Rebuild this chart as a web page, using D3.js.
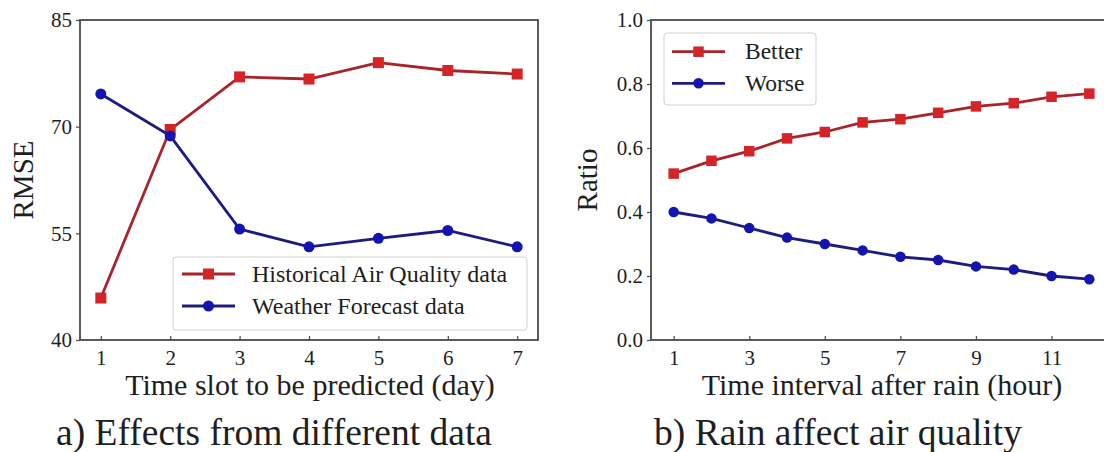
<!DOCTYPE html>
<html>
<head>
<meta charset="utf-8">
<script src="https://cdn.jsdelivr.net/npm/d3@7"></script>
<style>
  body { margin: 0; background: #fff; }
  svg text { font-family: "Liberation Serif", "DejaVu Serif", serif; fill: #1e1e1e; }
</style>
</head>
<body>
<div id="chart"></div>
<script>
// panel a) Effects from different data
const days = [1, 2, 3, 4, 5, 6, 7];
const historical = [45.9, 69.6, 77.0, 76.7, 79.0, 77.9, 77.4];
const weather = [74.6, 68.7, 55.6, 53.1, 54.3, 55.4, 53.1];
const rmseTicks = [40, 55, 70, 85];

// panel b) Rain affect air quality
const hours = [1, 2, 3, 4, 5, 6, 7, 8, 9, 10, 11, 12];
const better = [0.52, 0.56, 0.59, 0.63, 0.65, 0.68, 0.69, 0.71, 0.73, 0.74, 0.76, 0.77];
const worse = [0.40, 0.38, 0.35, 0.32, 0.30, 0.28, 0.26, 0.25, 0.23, 0.22, 0.20, 0.19];
const ratioTicks = [0.0, 0.2, 0.4, 0.6, 0.8, 1.0];
const hourTicks = [1, 3, 5, 7, 9, 11];

const RED_LINE = "#a8242a", RED_MARK = "#d42428";
const BLUE_LINE = "#1c1c7e", BLUE_MARK = "#1414b0";

var svg = d3.select("#chart").append("svg")
  .attr("width", 1104)
  .attr("height", 452);

function drawPanel(opt) {
  var g = svg.append("g");
  var x = d3.scaleLinear().domain(opt.xDomain).range([opt.left, opt.right]);
  var y = d3.scaleLinear().domain(opt.yDomain).range([opt.bottom, opt.top]);

  // y axis, ticks outside
  var yAxis = g.append("g")
    .attr("transform", "translate(" + opt.left + ",0)")
    .call(d3.axisLeft(y).tickValues(opt.yTicks).tickFormat(opt.yFormat).tickSize(4).tickPadding(4));

  // x axis, ticks inside
  var xAxis = g.append("g")
    .attr("transform", "translate(0," + opt.bottom + ")")
    .call(d3.axisBottom(x).tickValues(opt.xTicks).tickFormat(d3.format("d")).tickSize(-4).tickPadding(10));

  [yAxis, xAxis].forEach(function(ax) {
    ax.select(".domain").remove();
    ax.selectAll("line").attr("stroke", "#555").attr("stroke-width", 1.3);
    ax.selectAll("text")
      .style("font-family", '"Liberation Serif", "DejaVu Serif", serif')
      .style("font-size", "21px")
      .attr("fill", "#1e1e1e");
  });

  // frame
  g.append("rect")
    .attr("x", opt.left).attr("y", opt.top)
    .attr("width", opt.frameRight - opt.left)
    .attr("height", opt.bottom - opt.top)
    .attr("fill", "none")
    .attr("stroke", "#4a4a4a")
    .attr("stroke-width", 1.8);

  // series
  opt.series.forEach(function(s) {
    var line = d3.line()
      .x(function(d, i) { return x(opt.xs[i]); })
      .y(function(d) { return y(d); });
    g.append("path")
      .datum(s.values)
      .attr("fill", "none")
      .attr("stroke", s.line)
      .attr("stroke-width", 2.8)
      .attr("d", line);

    var pts = g.append("g").selectAll("g")
      .data(s.values)
      .enter().append("g")
      .attr("transform", function(d, i) {
        return "translate(" + x(opt.xs[i]) + "," + y(d) + ")";
      });
    drawMarker(pts, s, opt.markerSize);
  });

  // legend
  var L = opt.legend;
  var lg = g.append("g");
  lg.append("rect")
    .attr("x", L.x0).attr("y", L.y0)
    .attr("width", L.x1 - L.x0).attr("height", L.y1 - L.y0)
    .attr("rx", 3)
    .attr("fill", "rgba(255,255,255,0.85)")
    .attr("stroke", "#d0d0d0")
    .attr("stroke-width", 1);
  opt.series.forEach(function(s, i) {
    var yy = L.rows[i];
    lg.append("line")
      .attr("x1", L.lx0).attr("x2", L.lx1)
      .attr("y1", yy).attr("y2", yy)
      .attr("stroke", s.line).attr("stroke-width", 2.8);
    var m = lg.append("g").attr("transform", "translate(" + ((L.lx0 + L.lx1) / 2) + "," + yy + ")");
    drawMarker(m, s, opt.markerSize);
    lg.append("text")
      .attr("x", L.tx).attr("y", yy)
      .attr("dy", "0.33em")
      .style("font-size", L.fontSize + "px")
      .text(s.name);
  });

  // axis labels
  g.append("text")
    .attr("x", opt.xLabelX).attr("y", 395)
    .attr("text-anchor", "middle")
    .style("font-size", "30px")
    .text(opt.xLabel);
  g.append("text")
    .attr("transform", "translate(" + opt.yLabelX + "," + ((opt.top + opt.bottom) / 2) + ") rotate(-90)")
    .attr("text-anchor", "middle")
    .style("font-size", "29px")
    .text(opt.yLabel);

  // caption
  g.append("text")
    .attr("x", opt.captionX).attr("y", 445)
    .attr("text-anchor", "middle")
    .style("font-size", "37.5px")
    .text(opt.caption);
}

function drawMarker(sel, s, size) {
  if (s.marker === "square") {
    sel.append("rect")
      .attr("x", -size / 2).attr("y", -size / 2)
      .attr("width", size).attr("height", size)
      .attr("fill", s.mark);
  } else {
    sel.append("circle")
      .attr("r", size / 2)
      .attr("fill", s.mark);
  }
}

drawPanel({
  left: 80, right: 538, frameRight: 538, top: 20, bottom: 340,
  xDomain: [0.7, 7.3], yDomain: [40, 85],
  xTicks: days, yTicks: rmseTicks, yFormat: d3.format("d"),
  xs: days,
  markerSize: 11,
  series: [
    { name: "Historical Air Quality data", values: historical, line: RED_LINE, mark: RED_MARK, marker: "square" },
    { name: "Weather Forecast data", values: weather, line: BLUE_LINE, mark: BLUE_MARK, marker: "circle" }
  ],
  legend: { x0: 173, x1: 527, y0: 257, y1: 330, lx0: 182, lx1: 235, tx: 252, rows: [274, 306], fontSize: 24 },
  xLabel: "Time slot to be predicted (day)", xLabelX: 310,
  yLabel: "RMSE", yLabelX: 33,
  caption: "a) Effects from different data", captionX: 274
});

drawPanel({
  left: 651, right: 1112, frameRight: 1112, top: 20, bottom: 340,
  xDomain: [0.4, 12.6], yDomain: [0, 1],
  xTicks: hourTicks, yTicks: ratioTicks, yFormat: d3.format(".1f"),
  xs: hours,
  markerSize: 10.5,
  series: [
    { name: "Better", values: better, line: RED_LINE, mark: RED_MARK, marker: "square" },
    { name: "Worse", values: worse, line: BLUE_LINE, mark: BLUE_MARK, marker: "circle" }
  ],
  legend: { x0: 664, x1: 816, y0: 33, y1: 105, lx0: 672, lx1: 725, tx: 745, rows: [51.7, 83.3], fontSize: 23.5 },
  xLabel: "Time interval after rain (hour)", xLabelX: 882,
  yLabel: "Ratio", yLabelX: 597,
  caption: "b) Rain affect air quality", captionX: 838
});
</script>
</body>
</html>
